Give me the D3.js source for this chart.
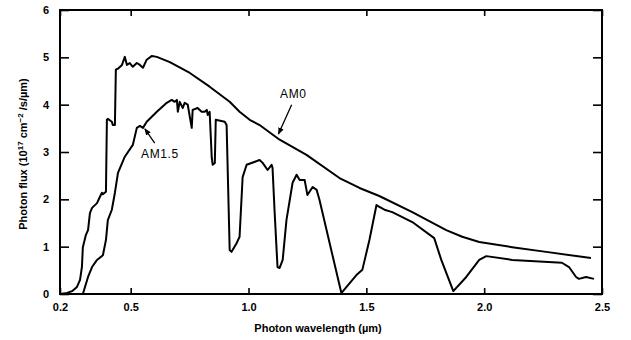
<!DOCTYPE html>
<html>
<head>
<meta charset="utf-8">
<script src="https://cdn.jsdelivr.net/npm/d3@7"></script>
<style>
  body { margin: 0; background: #fff; }
  svg { display: block; font-family: "Liberation Sans", Arial, sans-serif; }
</style>
</head>
<body>
<div id="chart"></div>
<script>
// wavelength (um) and photon flux (1e17 cm^-2 s^-1 um^-1)
const am0Wave = [0.20, 0.23, 0.251, 0.272, 0.285, 0.293, 0.297, 0.31, 0.319, 0.327, 0.336, 0.357, 0.369, 0.378, 0.382, 0.395,
  0.399, 0.403, 0.42, 0.424, 0.433, 0.437, 0.446, 0.463, 0.475, 0.484, 0.496, 0.509, 0.526, 0.539, 0.552, 0.568, 0.59, 0.611,
  0.666, 0.751, 0.835, 0.92, 0.962, 1.005, 1.047, 1.132, 1.246, 1.386, 1.471, 1.555, 1.695, 1.839, 1.907, 1.979, 2.119, 2.263, 2.453];
const am0Flux = [0.0, 0.02, 0.06, 0.15, 0.30, 0.57, 0.99, 1.25, 1.35, 1.71, 1.82, 1.92, 2.05, 2.14, 2.11, 2.16,
  3.68, 3.70, 3.64, 3.57, 3.57, 4.74, 4.76, 4.84, 5.01, 4.84, 4.88, 4.80, 4.88, 4.84, 4.78, 4.95, 5.03, 5.01,
  4.90, 4.67, 4.38, 4.06, 3.85, 3.68, 3.57, 3.26, 2.94, 2.45, 2.24, 2.07, 1.73, 1.35, 1.21, 1.10, 0.99, 0.89, 0.76];

const am15Wave = [0.297, 0.319, 0.336, 0.357, 0.382, 0.395, 0.403, 0.42, 0.433, 0.446, 0.475, 0.509, 0.526, 0.539, 0.552, 0.568,
  0.611, 0.653, 0.674, 0.687, 0.696, 0.70, 0.708, 0.721, 0.729, 0.742, 0.759, 0.763, 0.784, 0.801, 0.814, 0.823, 0.827, 0.835,
  0.844, 0.848, 0.857, 0.861, 0.899, 0.907, 0.92, 0.928, 0.95, 0.962, 0.975, 0.992, 1.047, 1.06, 1.081, 1.098, 1.102, 1.111,
  1.123, 1.132, 1.145, 1.161, 1.187, 1.204, 1.217, 1.238, 1.25, 1.272, 1.289, 1.301, 1.394, 1.416, 1.458, 1.483, 1.513, 1.543,
  1.555, 1.577, 1.61, 1.695, 1.788, 1.818, 1.869, 1.924, 1.979, 2.009, 2.119, 2.33, 2.36, 2.39, 2.402, 2.432, 2.466];
const am15Flux = [0.0, 0.36, 0.57, 0.72, 0.82, 1.14, 1.56, 1.78, 2.14, 2.56, 2.90, 3.15, 3.51, 3.55, 3.51, 3.64,
  3.85, 4.04, 4.10, 4.06, 4.10, 3.85, 4.06, 3.93, 4.04, 4.00, 3.51, 3.89, 3.93, 3.85, 3.85, 3.89, 3.78, 3.85,
  2.88, 2.73, 2.77, 3.68, 3.64, 3.57, 0.93, 0.89, 1.08, 1.21, 2.47, 2.73, 2.83, 2.77, 2.62, 2.73, 2.66, 1.71,
  0.57, 0.55, 0.72, 1.56, 2.35, 2.52, 2.41, 2.41, 2.09, 2.26, 2.20, 1.99, 0.02, 0.15, 0.40, 0.51, 1.14, 1.88,
  1.84, 1.78, 1.73, 1.52, 1.18, 0.72, 0.06, 0.36, 0.72, 0.80, 0.72, 0.66, 0.57, 0.36, 0.32, 0.36, 0.32];

const xTicks = [0.2, 0.5, 1.0, 1.5, 2.0, 2.5];
const yTicks = [0, 1, 2, 3, 4, 5, 6];

// annotations: label position and arrow, in data units
const notes = [
  { label: "AM0", tx: 1.19, ty: 4.14, x1: 1.183, y1: 4.00, x2: 1.127, y2: 3.38 },
  { label: "AM1.5", tx: 0.624, ty: 2.88, x1: 0.602, y1: 3.19, x2: 0.56, y2: 3.49 }
];

const width = 631, height = 340;
const x = d3.scaleLinear().domain([0.2, 2.5]).range([60, 602]);
const y = d3.scaleLinear().domain([0, 6]).range([294, 10]);

const svg = d3.select("#chart").append("svg")
  .attr("width", width)
  .attr("height", height);

svg.append("defs").append("marker")
  .attr("id", "head")
  .attr("viewBox", "0 0 10 10")
  .attr("refX", 9).attr("refY", 5)
  .attr("markerWidth", 7).attr("markerHeight", 7)
  .attr("markerUnits", "userSpaceOnUse")
  .attr("orient", "auto")
  .append("path").attr("d", "M0,1L10,5L0,9Z").attr("fill", "#000");

// axes, ticks pointing inward
svg.append("g").attr("transform", "translate(0,294)")
  .call(d3.axisBottom(x).tickValues(xTicks).tickFormat(d3.format(".1f")).tickSize(-6).tickSizeOuter(0).tickPadding(9));
svg.append("g").attr("transform", "translate(0,10)")
  .call(d3.axisTop(x).tickValues(xTicks).tickFormat("").tickSize(-6).tickSizeOuter(0));
svg.append("g").attr("transform", "translate(60,0)")
  .call(d3.axisLeft(y).tickValues(yTicks).tickFormat(d3.format("d")).tickSize(-9).tickSizeOuter(0).tickPadding(11));
svg.append("g").attr("transform", "translate(602,0)")
  .call(d3.axisRight(y).tickValues(yTicks).tickFormat("").tickSize(-9).tickSizeOuter(0));

svg.selectAll(".domain").remove();
svg.selectAll(".tick line").attr("stroke", "#000").attr("stroke-width", 1.6);
svg.selectAll(".tick text")
  .attr("fill", "#000")
  .style("font-size", "11px")
  .style("font-weight", "bold");

svg.append("rect")
  .attr("x", x(0.2)).attr("y", y(6))
  .attr("width", x(2.5) - x(0.2)).attr("height", y(0) - y(6))
  .attr("fill", "none").attr("stroke", "#000").attr("stroke-width", 2);

const line = d3.line()
  .x(d => x(d[0]))
  .y(d => y(d[1]));

svg.append("path")
  .datum(d3.zip(am0Wave, am0Flux))
  .attr("d", line)
  .attr("fill", "none").attr("stroke", "#000")
  .attr("stroke-width", 2).attr("stroke-linejoin", "round");

svg.append("path")
  .datum(d3.zip(am15Wave, am15Flux))
  .attr("d", line)
  .attr("fill", "none").attr("stroke", "#000")
  .attr("stroke-width", 2).attr("stroke-linejoin", "round");

// labels with arrows
notes.forEach(n => {
  svg.append("text")
    .attr("x", x(n.tx)).attr("y", y(n.ty))
    .attr("text-anchor", "middle")
    .style("font-size", "12px")
    .style("letter-spacing", "0.6px")
    .text(n.label);
  svg.append("line")
    .attr("x1", x(n.x1)).attr("y1", y(n.y1))
    .attr("x2", x(n.x2)).attr("y2", y(n.y2))
    .attr("stroke", "#000").attr("stroke-width", 1.3)
    .attr("marker-end", "url(#head)");
});

// axis titles
svg.append("text")
  .attr("x", 318).attr("y", 332)
  .attr("text-anchor", "middle")
  .style("font-size", "11px").style("font-weight", "bold")
  .text("Photon wavelength (\u00b5m)");

const ylab = svg.append("text")
  .attr("transform", "translate(27,154) rotate(-90)")
  .attr("text-anchor", "middle")
  .style("font-size", "11px").style("font-weight", "bold");
ylab.append("tspan").text("Photon flux (10");
ylab.append("tspan").attr("dy", -4).style("font-size", "8px").text("17");
ylab.append("tspan").attr("dy", 4).text(" cm");
ylab.append("tspan").attr("dy", -4).style("font-size", "8px").text("\u22122");
ylab.append("tspan").attr("dy", 4).text(" /s/\u00b5m)");
</script>
</body>
</html>
